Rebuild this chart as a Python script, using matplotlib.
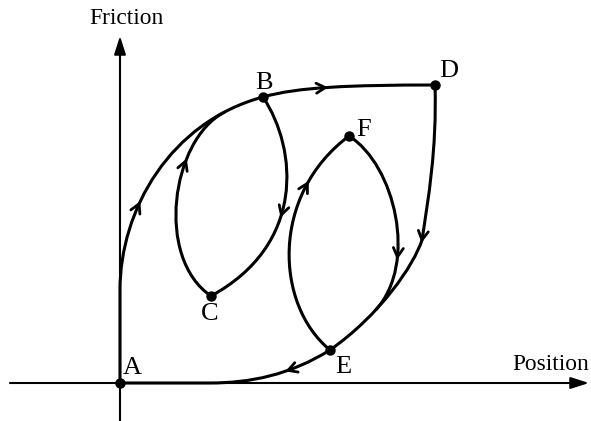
import numpy as np
import matplotlib
matplotlib.use("Agg")
import matplotlib.pyplot as plt
from matplotlib.path import Path
from matplotlib.patches import PathPatch
from matplotlib.bezier import BezierSegment

# Named points of the schematic (pixel-like coordinates, y grows downward)
point_names = ["A", "B", "C", "D", "E", "F"]
point_x = [120, 263, 211, 435, 330, 349]
point_y = [383, 97, 296, 85, 350, 136]
label_x = [132, 264, 210, 449, 343, 364]
label_y = [368, 83, 314, 71, 367, 130]

# Cubic Bezier control points for each branch
seg_A0 = [(120, 383), (120, 350), (120, 320), (120, 290)]
seg_AB = [(120, 290), (120, 210), (170, 122), (263, 97)]
seg_BD = [(263, 97), (298, 87), (350, 85), (435, 85)]
seg_D1 = [(435, 85), (437, 150), (428, 200), (422, 240)]
seg_D2 = [(422, 240), (414, 265), (380, 315), (330, 350)]
seg_EA = [(330, 350), (290, 375), (250, 383), (210, 383)]
seg_CB = [(211, 296), (155, 258), (171, 140.3), (224.1, 112.3)]
seg_BC = [(263, 97), (298, 150), (305, 245), (211, 296)]
seg_EF = [(330, 350), (275, 305), (270, 195), (349, 136)]
seg_FE = [(349, 136), (395, 165), (418, 263), (376.2, 309.4)]

# Arrow placements: (segment, parameter t)
arrows = [(seg_AB, 0.36), (seg_BD, 0.47), (seg_D1, 1.0), (seg_EA, 0.35),
          (seg_CB, 0.68), (seg_BC, 0.58), (seg_EF, 0.77), (seg_FE, 0.70)]

axis_x_label = "Position"
axis_y_label = "Friction"

W, H = 591, 421
fig = plt.figure(figsize=(W / 100, H / 100), dpi=100)
ax = fig.add_axes([0, 0, 1, 1])
ax.set_xlim(0, W)
ax.set_ylim(H, 0)
ax.axis("off")

serif = ["Liberation Serif", "DejaVu Serif"]

# coordinate axes
ax.annotate("", xy=(589, 383), xytext=(10, 383),
            arrowprops=dict(arrowstyle="-|>,head_length=1.1,head_width=0.35",
                            color="black", lw=1.5, shrinkA=0, shrinkB=0))
ax.annotate("", xy=(120, 36), xytext=(120, 421),
            arrowprops=dict(arrowstyle="-|>,head_length=1.1,head_width=0.35",
                            color="black", lw=1.5, shrinkA=0, shrinkB=0))
ax.text(126.5, 19, axis_y_label, fontsize=16.8, family=serif, ha="center", va="center")
ax.text(551, 365, axis_x_label, fontsize=16.8, family=serif, ha="center", va="center")


def draw_path(segs, extra_line=None):
    verts = [segs[0][0]]
    codes = [Path.MOVETO]
    for s in segs:
        verts += list(s[1:])
        codes += [Path.CURVE4] * 3
    if extra_line is not None:
        verts.append(extra_line)
        codes.append(Path.LINETO)
    ax.add_patch(PathPatch(Path(verts, codes), fill=False, lw=2.2,
                           edgecolor="black", capstyle="round", joinstyle="round"))


draw_path([seg_A0, seg_AB])
draw_path([seg_BD])
draw_path([seg_D1, seg_D2, seg_EA], extra_line=(120, 383))
draw_path([seg_CB])
draw_path([seg_BC])
draw_path([seg_EF])
draw_path([seg_FE])

# chevron arrowheads
for seg, t in arrows:
    bz = BezierSegment(np.array(seg, dtype=float))
    p = np.array(bz.point_at_t(t))
    t0, t1 = max(t - 0.01, 0), min(t + 0.01, 1)
    d = np.array(bz.point_at_t(t1)) - np.array(bz.point_at_t(t0))
    d = d / np.linalg.norm(d)
    n = np.array([-d[1], d[0]])
    L, Wd = 9.0, 5.0
    a = p - L * d + Wd * n
    b = p - L * d - Wd * n
    ax.plot([a[0], p[0], b[0]], [a[1], p[1], b[1]], color="black", lw=2.0,
            solid_capstyle="round", solid_joinstyle="miter")

# points and labels
ax.plot(point_x, point_y, "o", color="black", markersize=6.5, zorder=5)
for name, lx, ly in zip(point_names, label_x, label_y):
    ax.text(lx, ly, name, fontsize=19, family=serif, ha="center", va="center")

fig.savefig("out.png", dpi=100)
